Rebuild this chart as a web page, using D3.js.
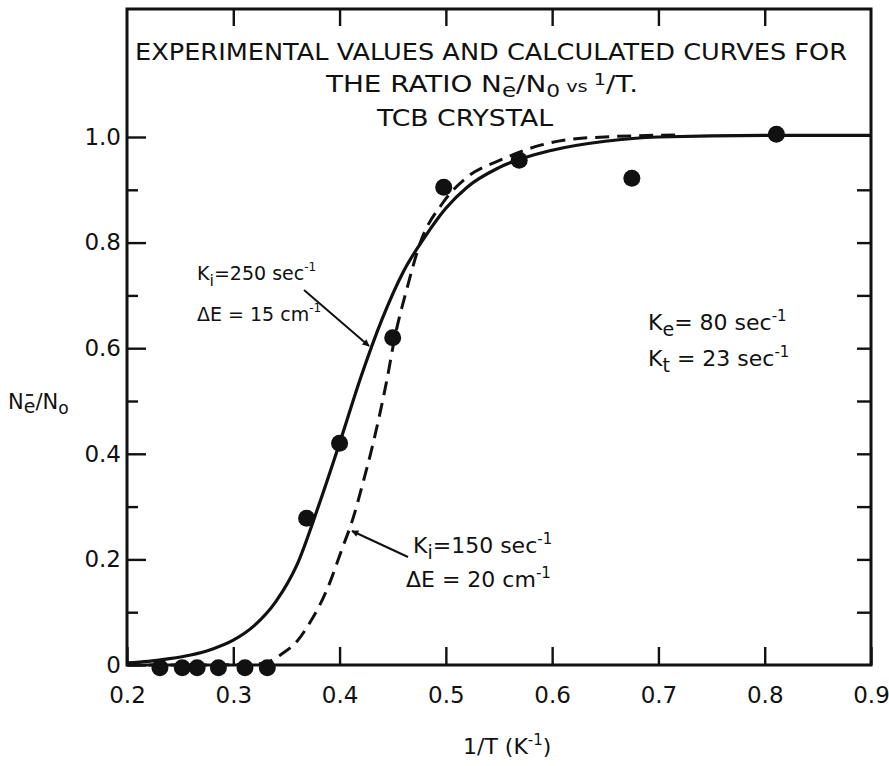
<!DOCTYPE html>
<html>
<head>
<meta charset="utf-8">
<script src="https://cdn.jsdelivr.net/npm/d3@7"></script>
<style>
  body { margin: 0; background: #fff; }
  svg { display: block; }
  text { font-family: "DejaVu Sans", "Liberation Sans", sans-serif; fill: #111; }
</style>
</head>
<body>
<svg id="chart" width="889" height="766"></svg>
<script>
// measured points (1/T, Ne/No)
const ptX = [0.231, 0.252, 0.266, 0.286, 0.311, 0.332, 0.369, 0.400, 0.450, 0.498, 0.569, 0.675, 0.811];
const ptY = [-0.005, -0.005, -0.005, -0.005, -0.005, -0.005, 0.278, 0.42, 0.62, 0.905, 0.956, 0.922, 1.005];

// calculated curve, Ki = 250, dE = 15 (solid)
const solidX = [0.20, 0.22, 0.24, 0.26, 0.28, 0.30, 0.32, 0.34, 0.36, 0.38, 0.40, 0.42, 0.44, 0.46, 0.48, 0.50, 0.52, 0.55, 0.60, 0.65, 0.70, 0.80, 0.90];
const solidY = [0.004, 0.007, 0.012, 0.019, 0.03, 0.047, 0.075, 0.12, 0.19, 0.30, 0.42, 0.545, 0.655, 0.745, 0.81, 0.865, 0.905, 0.942, 0.975, 0.992, 1.0, 1.003, 1.003];

// calculated curve, Ki = 150, dE = 20 (dashed)
const dashX = [0.20, 0.26, 0.31, 0.33, 0.345, 0.36, 0.372, 0.388, 0.402, 0.413, 0.422, 0.43, 0.445, 0.452, 0.463, 0.476, 0.497, 0.52, 0.551, 0.59, 0.63, 0.72];
const dashY = [0.0, 0.0, 0.001, 0.004, 0.02, 0.045, 0.08, 0.142, 0.218, 0.28, 0.345, 0.407, 0.545, 0.621, 0.71, 0.80, 0.875, 0.924, 0.956, 0.985, 0.998, 1.004];

const xTicks = [0.2, 0.3, 0.4, 0.5, 0.6, 0.7, 0.8, 0.9];
const yTicks = [0, 0.2, 0.4, 0.6, 0.8, 1.0];
const yMinor = [0.1, 0.3, 0.5, 0.7, 0.9];

const pL = 127, pR = 871, pT = 9, pB = 665;
const svg = d3.select('#chart');
const x = d3.scaleLinear().domain([0.2, 0.9]).range([pL, pR]);
const y = d3.scaleLinear().domain([0, 1]).range([pB, 137]);

// arrowhead
svg.append('defs').append('marker')
  .attr('id', 'arr').attr('viewBox', '0 0 10 10').attr('refX', 9).attr('refY', 5)
  .attr('markerWidth', 10).attr('markerHeight', 7).attr('orient', 'auto')
  .attr('markerUnits', 'userSpaceOnUse')
  .append('path').attr('d', 'M0,0L10,5L0,10z').attr('fill', '#111');

// axes (ticks point inwards)
const fmtY = d => d === 0 ? '0' : d3.format('.1f')(d);
const ax = svg.append('g').attr('class', 'axes');

ax.append('g').attr('transform', `translate(${pL},0)`)
  .call(d3.axisLeft(y).tickValues(yTicks).tickSizeInner(-19).tickSizeOuter(0).tickPadding(6).tickFormat(fmtY));
ax.append('g').attr('transform', `translate(${pL},0)`)
  .call(d3.axisLeft(y).tickValues(yMinor).tickSizeInner(-11).tickSizeOuter(0).tickFormat(''));
ax.append('g').attr('transform', `translate(${pR},0)`)
  .call(d3.axisRight(y).tickValues(yMinor.concat([0.2, 0.4, 0.6, 0.8])).tickSizeInner(-14).tickSizeOuter(0).tickFormat(''));
ax.append('g').attr('transform', `translate(0,${pB})`)
  .call(d3.axisBottom(x).tickValues(xTicks).tickSizeInner(-18).tickSizeOuter(0).tickPadding(22).tickFormat(d3.format('.1f')));
ax.append('g').attr('transform', `translate(0,${pT})`)
  .call(d3.axisTop(x).tickValues(xTicks.slice(1, -1)).tickSizeInner(-17).tickSizeOuter(0).tickFormat(''));

ax.selectAll('.domain').remove();
ax.selectAll('line').attr('stroke', '#111').attr('stroke-width', 2.4);
ax.selectAll('text').attr('font-size', 23).attr('fill', '#111');

svg.append('rect')
  .attr('x', pL).attr('y', pT).attr('width', pR - pL).attr('height', pB - pT)
  .attr('fill', 'none').attr('stroke', '#111').attr('stroke-width', 3);

// curves
const line = d3.line().curve(d3.curveMonotoneX);
svg.append('path')
  .attr('d', line(solidX.map((v, i) => [x(v), y(solidY[i])])))
  .attr('fill', 'none').attr('stroke', '#111').attr('stroke-width', 3.2);
svg.append('path')
  .attr('d', line(dashX.map((v, i) => [x(v), y(dashY[i])])))
  .attr('fill', 'none').attr('stroke', '#111').attr('stroke-width', 3)
  .attr('stroke-dasharray', '14,8');

// data points
svg.append('g').selectAll('circle').data(ptX).join('circle')
  .attr('cx', d => x(d)).attr('cy', (d, i) => y(ptY[i])).attr('r', 8.5).attr('fill', '#111');

// title
const title = svg.append('g').attr('font-size', 23);
title.append('text').attr('x', 491).attr('y', 60).attr('text-anchor', 'middle')
  .attr('textLength', 712).attr('lengthAdjust', 'spacingAndGlyphs')
  .text('EXPERIMENTAL VALUES AND CALCULATED CURVES FOR');
const t2 = title.append('text').attr('x', 326).attr('y', 92)
  .attr('textLength', 312).attr('lengthAdjust', 'spacingAndGlyphs');
t2.append('tspan').text('THE RATIO N');
t2.append('tspan').attr('dy', 5).attr('font-size', 19).text('e');
t2.append('tspan').attr('dy', -5).text('/N');
t2.append('tspan').attr('dy', 5).attr('font-size', 18).text('0');
t2.append('tspan').attr('dy', -5).attr('font-size', 16).text(' vs ');
t2.append('tspan').attr('dy', -7).attr('font-size', 16).text('1');
t2.append('tspan').attr('dy', 7).text('/T.');
title.append('text').attr('x', 465).attr('y', 126).attr('text-anchor', 'middle')
  .attr('textLength', 176).attr('lengthAdjust', 'spacingAndGlyphs').text('TCB CRYSTAL');

// overbar minus for e (placed over the e glyph after layout)
function minusOver(textSel, tspanIndex, dyUp) {
  const node = textSel.selectAll('tspan').nodes()[tspanIndex];
  const b = node.getBBox();
  svg.append('line').attr('x1', b.x + b.width * 0.2).attr('x2', b.x + b.width * 0.8)
    .attr('y1', b.y - dyUp).attr('y2', b.y - dyUp).attr('stroke', '#111').attr('stroke-width', 1.8);
}
minusOver(t2, 1, 1);

// y label
const yl = svg.append('text').attr('x', 8).attr('y', 409).attr('font-size', 21);
yl.append('tspan').text('N');
yl.append('tspan').attr('dy', 4).attr('font-size', 19).text('e');
yl.append('tspan').attr('dy', -4).text('/N');
yl.append('tspan').attr('dy', 5).attr('font-size', 17).text('o');
minusOver(yl, 1, 0);

// x label
const xl = svg.append('text').attr('x', 463).attr('y', 754).attr('font-size', 22);
xl.append('tspan').text('1/T (K');
xl.append('tspan').attr('dy', -9).attr('font-size', 15).text('-1');
xl.append('tspan').attr('dy', 9).text(')');

// annotations
function label(xp, yp, size, main, sub, rest, sup) {
  const t = svg.append('text').attr('x', xp).attr('y', yp).attr('font-size', size);
  t.append('tspan').text(main);
  if (sub) t.append('tspan').attr('dy', 6).attr('font-size', size - 3).text(sub);
  t.append('tspan').attr('dy', sub ? -6 : 0).text(rest);
  t.append('tspan').attr('dy', -9).attr('font-size', size - 7).text(sup);
  return t;
}
label(197, 280, 19, 'K', 'i', '=250 sec', '-1');
label(197, 321, 19, '\u0394E = 15 cm', null, '', '-1');
label(413, 553, 22, 'K', 'i', '=150 sec', '-1');
label(406, 587, 22, '\u0394E = 20 cm', null, '', '-1');
label(648, 330, 22, 'K', 'e', '= 80 sec', '-1');
label(648, 366, 22, 'K', 't', ' = 23 sec', '-1');

svg.append('line').attr('x1', 304).attr('y1', 290).attr('x2', 369).attr('y2', 346)
  .attr('stroke', '#111').attr('stroke-width', 2).attr('marker-end', 'url(#arr)');
svg.append('line').attr('x1', 408).attr('y1', 557).attr('x2', 352).attr('y2', 531)
  .attr('stroke', '#111').attr('stroke-width', 2).attr('marker-end', 'url(#arr)');
</script>
</body>
</html>
